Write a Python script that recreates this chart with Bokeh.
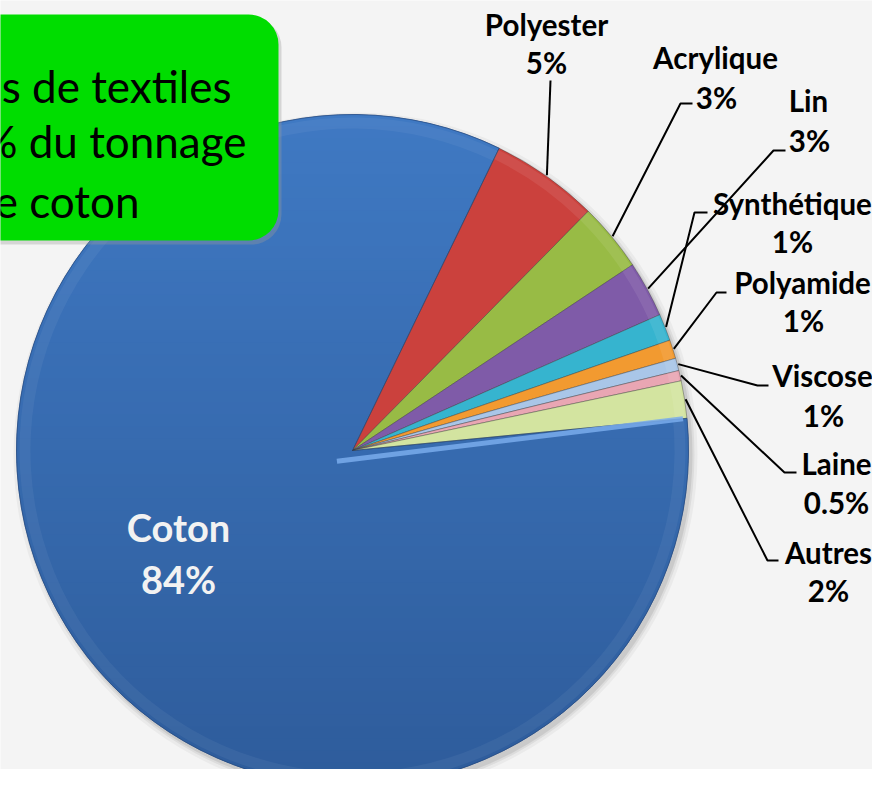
import math
from bokeh.plotting import figure
from bokeh.models import Range1d, ColumnDataSource, BoxAnnotation, Label
from bokeh.core.properties import value
from bokeh.embed import file_html
from bokeh.resources import INLINE

# ---------------- data ----------------
categories = ["Coton", "Polyester", "Acrylique", "Lin", "Synthétique",
              "Polyamide", "Viscose", "Laine", "Autres"]
shares = [83.8, 5.2, 3.3, 2.7, 1.3, 0.9, 0.6, 0.5, 1.8]
pct_labels = ["84%", "5%", "3%", "3%", "1%", "1%", "1%", "0.5%", "2%"]
box_lines = ["s de textiles", "% du tonnage", "e coton"]

# ---------------- styles / layout ----------------
colors = ["#3768AC", "#CB413D", "#98BB45", "#7F5BA8", "#36B4CF",
          "#F29A30", "#A9C6E8", "#E9A6B3", "#D3E4A0"]
COTON_TOP = (0x3F, 0x79, 0xC3)
COTON_BOT = (0x2E, 0x5C, 0x9B)
PW, PH = 872, 769
H_REF = 785
def Y(y):
    return H_REF - y

CX, CY, R = 352, 450, 336
START_DEG = 5.5
EXPLODE = 19
BG = "#F4F4F4"

# label centres (pixel positions, top-left origin)
name_pos = [(178, 526), (546, 24), (715, 57), (808, 100), (792, 203),
            (802, 282), (822, 375), (836, 463), (828, 552)]
pct_pos = [(178, 578), (546, 62), (716, 97), (809, 140), (792, 241),
           (803, 320), (823, 415), (836, 502), (828, 590)]
# leader elbows and ends
elbow = [None, (550, 80), (680, 103), (773, 150), (694, 212),
         (716, 292), (757, 385), (784, 472), (767, 560)]
lead_end = [None, (550, 80), (692, 103), (785, 150), (707, 212),
            (726, 292), (768, 385), (796, 472), (778, 560)]
box_right = [231, 246, 139]
box_base = [85, 140, 200]

# ---------------- geometry from data ----------------
total = sum(shares)
lo, hi, mids = [], [], []
a = START_DEG
for s in shares:
    span = s / total * 360.0
    hi.append(math.radians(a))
    lo.append(math.radians(a - span))
    mids.append(math.radians(a - span / 2))
    a -= span

cy_d = Y(CY)
src = ColumnDataSource(dict(x=[CX] * (len(shares) - 1), y=[cy_d] * (len(shares) - 1),
                            start=lo[1:], end=hi[1:], color=colors[1:]))

# Coton wedge polygon (centre + arc) for a vertical shading
n = 300
coton_poly = [(CX, cy_d)] + [
    (CX + R * math.cos(lo[0] + (hi[0] - lo[0]) * k / n),
     cy_d + R * math.sin(lo[0] + (hi[0] - lo[0]) * k / n)) for k in range(n + 1)]

def clip_half(poly, yv, keep_above):
    out = []
    m = len(poly)
    for i in range(m):
        p1 = poly[i]
        p2 = poly[(i + 1) % m]
        in1 = (p1[1] >= yv) if keep_above else (p1[1] <= yv)
        in2 = (p2[1] >= yv) if keep_above else (p2[1] <= yv)
        if in1:
            out.append(p1)
        if in1 != in2:
            t = (yv - p1[1]) / (p2[1] - p1[1])
            out.append((p1[0] + t * (p2[0] - p1[0]), yv))
    return out

p = figure(width=PW, height=PH, output_backend="svg", toolbar_location=None,
           x_range=Range1d(0, PW), y_range=Range1d(H_REF - PH, H_REF), min_border=0)
p.axis.visible = False
p.grid.visible = False
p.outline_line_color = None
p.background_fill_color = BG
p.border_fill_color = BG

# soft shadow
for rr, al in [(R + 6, 0.04), (R + 3, 0.06), (R + 1, 0.08)]:
    p.circle(x=[CX + 3], y=[cy_d - 4], radius=rr, fill_color="black",
             fill_alpha=al, line_color=None)

# Coton base + shaded strips
p.wedge(x=[CX], y=[cy_d], radius=R, start_angle=[lo[0]], end_angle=[hi[0]],
        fill_color=colors[0], line_color="#2a4f86", line_alpha=0.6, line_width=0.8)
ytop, ybot = cy_d + R, cy_d - R
strip = 12
sx_list, sy_list, sc_list = [], [], []
yv = ybot
while yv < ytop:
    piece = clip_half(clip_half(coton_poly, yv, True), yv + strip + 0.8, False)
    if len(piece) >= 3:
        f = (yv + strip / 2 - ybot) / (ytop - ybot)
        c = tuple(int(round(COTON_BOT[j] + (COTON_TOP[j] - COTON_BOT[j]) * f)) for j in range(3))
        sx_list.append([q[0] for q in piece])
        sy_list.append([q[1] for q in piece])
        sc_list.append("#%02x%02x%02x" % c)
    yv += strip
p.patches(sx_list, sy_list, fill_color=sc_list, line_color=None)

p.wedge(x="x", y="y", radius=R, start_angle="start", end_angle="end",
        source=src, fill_color="color", line_color="#3a3a3a", line_alpha=0.5,
        line_width=0.8)
# subtle bevel near the rim
p.annular_wedge(x="x", y="y", inner_radius=R - 12, outer_radius=R - 2,
                start_angle="start", end_angle="end", source=src,
                fill_color="white", fill_alpha=0.08, line_color=None)
p.annular_wedge(x=[CX], y=[cy_d], inner_radius=R - 14, outer_radius=R - 3,
                start_angle=[lo[0]], end_angle=[hi[0]],
                fill_color="white", fill_alpha=0.05, line_color=None)
p.wedge(x=[CX], y=[cy_d], radius=R, start_angle=[lo[0]], end_angle=[hi[0]],
        fill_color=None, line_color="#24487c", line_alpha=0.6, line_width=1)

# highlight along the Coton upper edge (from the pulled-out apex)
ax = CX + EXPLODE * math.cos(mids[0])
ay = cy_d + EXPLODE * math.sin(mids[0])
ex_ = CX + (R - 4) * math.cos(hi[0])
ey_ = cy_d + (R - 4) * math.sin(hi[0])
p.line([ax, ex_], [ay, ey_], line_color="#79ACEC", line_width=5, line_alpha=0.85)

# leader lines
lx, ly = [], []
for i in range(1, len(shares)):
    m = mids[i]
    sx = CX + (R + 1) * math.cos(m)
    sy = cy_d + (R + 1) * math.sin(m)
    ex, ey = elbow[i]
    fx, fy = lead_end[i]
    lx.append([sx, ex, fx])
    ly.append([sy, Y(ey), Y(fy)])
p.multi_line(lx, ly, line_color="black", line_width=2)

# labels
nsrc = ColumnDataSource(dict(x=[q[0] for q in name_pos[1:]],
                             y=[Y(q[1]) for q in name_pos[1:]],
                             t=categories[1:]))
psrc = ColumnDataSource(dict(x=[q[0] for q in pct_pos[1:]],
                             y=[Y(q[1]) for q in pct_pos[1:]],
                             t=pct_labels[1:]))
for s_ in (nsrc, psrc):
    p.text(x="x", y="y", text="t", source=s_, text_font=value("Lato"),
           text_font_style="bold", text_font_size="29.5px", text_color="black",
           text_align="center", text_baseline="middle")

p.text(x=[name_pos[0][0], pct_pos[0][0]], y=[Y(name_pos[0][1]), Y(pct_pos[0][1])],
       text=[categories[0], pct_labels[0]], text_font=value("Lato"),
       text_font_style="bold", text_font_size="38px", text_color="#F2F2F2",
       text_align="center", text_baseline="middle")

# green text box (drawn above the pie)
p.add_layout(BoxAnnotation(left=-40, right=281, bottom=Y(244), top=Y(17),
                           fill_color="#9a9a9a", fill_alpha=0.35, line_color=None,
                           border_radius=30))
p.add_layout(BoxAnnotation(left=-40, right=278, bottom=Y(240), top=Y(14),
                           fill_color="#00DD00", fill_alpha=1.0, line_color=None,
                           border_radius=30))
for t, xr, yb in zip(box_lines, box_right, box_base):
    p.add_layout(Label(x=xr, y=Y(yb), text=t, text_font="Lato",
                       text_font_size="44px", text_color="black",
                       text_align="right", text_baseline="alphabetic"))

open("out.html", "w").write(file_html(p, INLINE))
